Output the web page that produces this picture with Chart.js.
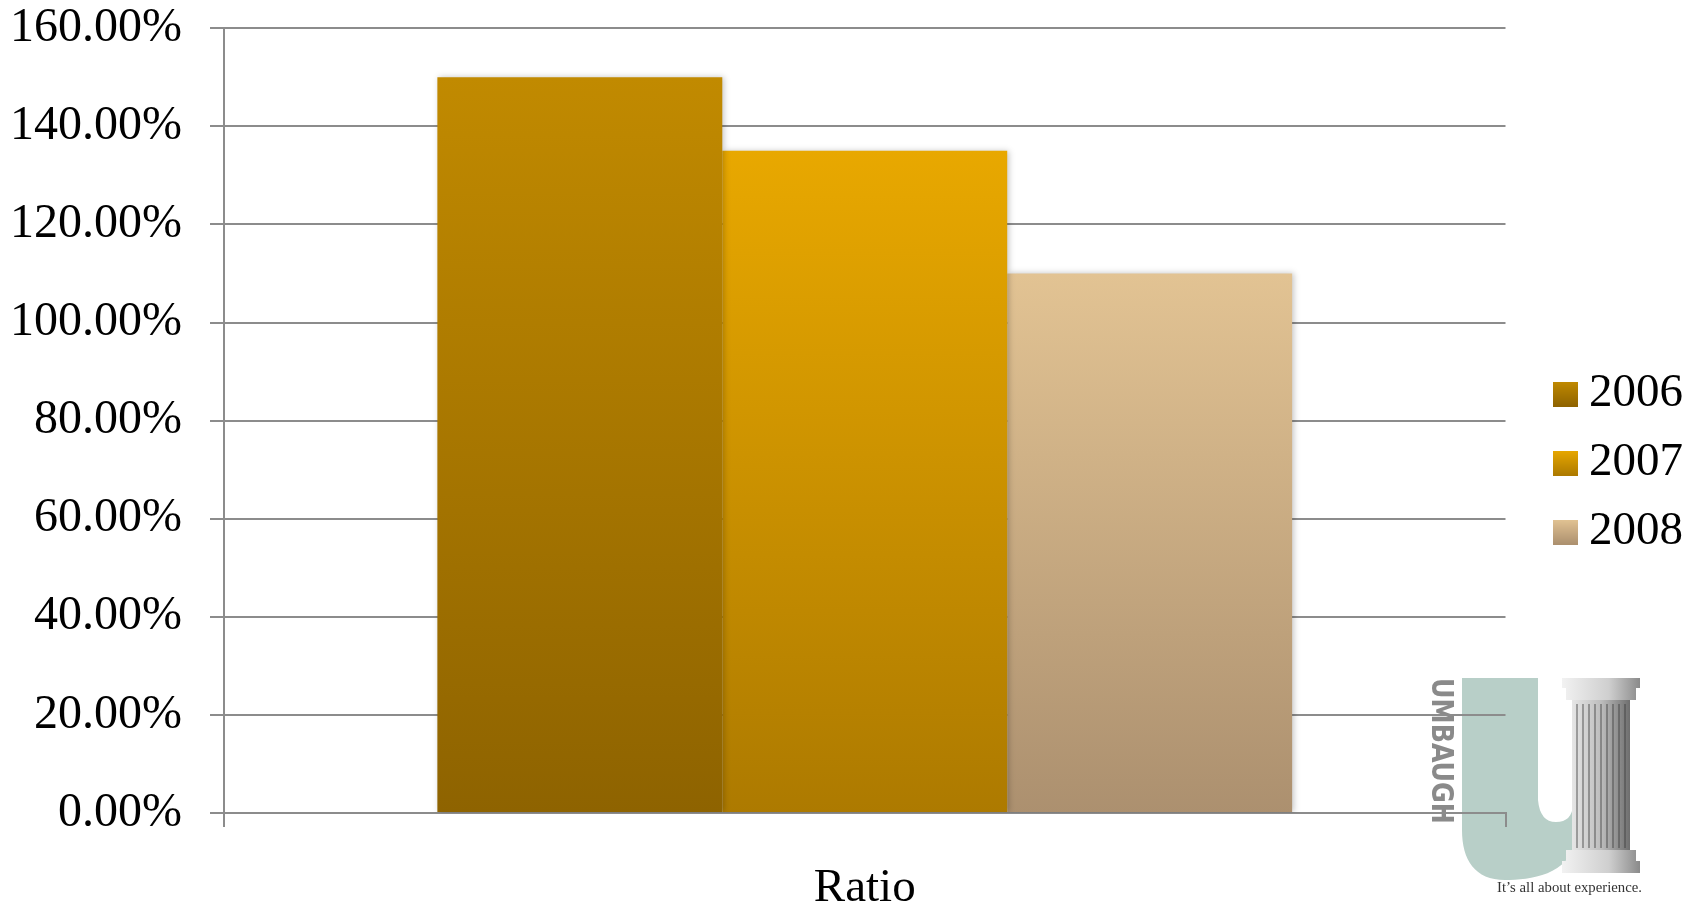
<!DOCTYPE html>
<html>
<head>
<meta charset="utf-8">
<title>Ratio</title>
<script src="https://cdn.jsdelivr.net/npm/chart.js@4/dist/chart.umd.min.js"></script>
<style>
  html, body { margin: 0; padding: 0; background: #fff; }
  #wrap { width: 1696px; height: 904px; position: relative; }
</style>
</head>
<body>
<div id="wrap"><canvas id="ratioChart"></canvas></div>
<script>
var categories = ["Ratio"];
var seriesNames = ["2006", "2007", "2008"];
var values2006 = [150];
var values2007 = [135];
var values2008 = [110];
var yMin = 0, yMax = 160, yStep = 20;

var topColors = ["#c18a00", "#e8a800", "#e2c393"];
var bottomColors = ["#8e6300", "#ad7a00", "#ac906f"];

var FONT = "'Liberation Serif', 'Times New Roman', serif";

// small gradient squares for the legend
function legendSwatch(i) {
    var c = document.createElement("canvas");
    c.width = 25; c.height = 25;
    var g = c.getContext("2d");
    var grad = g.createLinearGradient(0, 0, 0, 25);
    grad.addColorStop(0, topColors[i]);
    grad.addColorStop(1, bottomColors[i]);
    g.fillStyle = grad;
    g.fillRect(0, 0, 25, 25);
    return c;
}

function barFill(i) {
    return function (ctx) {
        var chart = ctx.chart;
        if (!chart.chartArea || ctx.parsed === undefined) return topColors[i];
        var y = chart.scales.y;
        var top = y.getPixelForValue(ctx.parsed.y);
        var bottom = y.getPixelForValue(0);
        var grad = chart.ctx.createLinearGradient(0, top, 0, bottom);
        grad.addColorStop(0, topColors[i]);
        grad.addColorStop(1, bottomColors[i]);
        return grad;
    };
}

// Umbaugh logo, painted behind the grid
var logoPlugin = {
    id: "logo",
    beforeDraw: function (chart) {
        var c = chart.ctx;
        c.save();
        c.fillStyle = "#b8cfc8";
        c.beginPath();
        c.moveTo(1462, 678);
        c.lineTo(1538, 678);
        c.lineTo(1538, 800);
        c.quadraticCurveTo(1540, 822, 1556, 822);
        c.quadraticCurveTo(1572, 822, 1573, 805);
        c.lineTo(1575, 840);
        c.bezierCurveTo(1570, 875, 1530, 880, 1505, 880);
        c.bezierCurveTo(1475, 880, 1462, 860, 1462, 830);
        c.closePath();
        c.fill();

        // column
        var sh = c.createLinearGradient(1572, 0, 1630, 0);
        sh.addColorStop(0, "#e6e6e6");
        sh.addColorStop(0.5, "#bdbdbd");
        sh.addColorStop(1, "#6e6e6e");
        c.fillStyle = sh;
        c.fillRect(1572, 700, 58, 152);
        c.strokeStyle = "rgba(60,60,60,0.55)";
        c.lineWidth = 1.5;
        for (var x = 1577; x < 1630; x += 6) {
            c.beginPath();
            c.moveTo(x, 704);
            c.lineTo(x, 848);
            c.stroke();
        }
        var cap = c.createLinearGradient(1562, 0, 1640, 0);
        cap.addColorStop(0, "#f2f2f2");
        cap.addColorStop(0.6, "#cfcfcf");
        cap.addColorStop(1, "#8a8a8a");
        c.fillStyle = cap;
        c.fillRect(1562, 678, 78, 10);
        c.fillRect(1566, 688, 70, 12);
        c.fillRect(1566, 850, 70, 11);
        c.fillRect(1562, 861, 78, 12);

        c.fillStyle = "#8a8a8a";
        c.font = "bold 30px 'Liberation Sans Narrow', 'DejaVu Sans Condensed', 'Liberation Sans', sans-serif";
        c.textBaseline = "alphabetic";
        c.translate(1432, 678);
        c.rotate(Math.PI / 2);
        c.fillText("UMBAUGH", 0, 0, 146);
        c.restore();

        c.save();
        c.fillStyle = "#333";
        c.font = "15px " + FONT;
        c.fillText("It\u2019s all about experience.", 1497, 892, 145);
        c.restore();
    }
};

var shadowPlugin = {
    id: "barShadow",
    beforeDatasetsDraw: function (chart) {
        var c = chart.ctx;
        c.save();
        c.shadowColor = "rgba(0,0,0,0.22)";
        c.shadowBlur = 6;
        c.shadowOffsetX = 2;
    },
    afterDatasetsDraw: function (chart) {
        chart.ctx.restore();
    }
};

var seriesValues = [values2006, values2007, values2008];
var datasets = seriesNames.map(function (name, i) {
    return {
        label: name,
        data: seriesValues[i],
        backgroundColor: barFill(i),
        borderWidth: 0,
        barPercentage: 1,
        categoryPercentage: 0.667
    };
});

new Chart(document.getElementById("ratioChart"), {
    type: "bar",
    data: { labels: categories, datasets: datasets },
    options: {
        responsive: true,
        maintainAspectRatio: false,
        animation: false,
        layout: { padding: { top: 0, right: 3, bottom: 0, left: 0 } },
        plugins: {
            tooltip: { enabled: false },
            legend: {
                position: "right",
                title: { display: true, text: "", font: { size: 10, lineHeight: 1 }, padding: { top: 6, bottom: 6 } },
                labels: {
                    usePointStyle: true,
                    pointStyleWidth: 1,
                    padding: 22,
                    color: "#000",
                    font: { family: FONT, size: 47 },
                    generateLabels: function (chart) {
                        return chart.data.datasets.map(function (ds, i) {
                            return {
                                text: ds.label,
                                pointStyle: legendSwatch(i),
                                fillStyle: topColors[i],
                                strokeStyle: "transparent",
                                fontColor: "#000",
                                lineWidth: 0,
                                hidden: false,
                                datasetIndex: i
                            };
                        });
                    }
                }
            }
        },
        scales: {
            x: {
                offset: true,
                grid: { display: true, drawOnChartArea: false, tickLength: 14, color: "#8c8c8c", lineWidth: 2, offset: true },
                border: { display: true, color: "#8c8c8c", width: 2 },
                ticks: { color: "#000", font: { family: FONT, size: 47 }, padding: 33 },
                afterFit: function (s) { s.height = 91; }
            },
            y: {
                min: yMin,
                max: yMax,
                grid: { color: "#8c8c8c", lineWidth: 2, tickLength: 14 },
                border: { display: true, color: "#8c8c8c", width: 2 },
                ticks: {
                    stepSize: yStep,
                    color: "#000",
                    padding: 28,
                    font: { family: FONT, size: 48, lineHeight: 0.01 },
                    callback: function (v) { return v.toFixed(2) + "%"; }
                },
                afterFit: function (s) { s.width = 224; }
            },
            pad: {
                position: "right",
                display: true,
                grid: { display: false },
                border: { display: false },
                ticks: { display: false },
                afterFit: function (s) { s.width = 37; }
            }
        }
    },
    plugins: [logoPlugin, shadowPlugin]
});
</script>
</body>
</html>
